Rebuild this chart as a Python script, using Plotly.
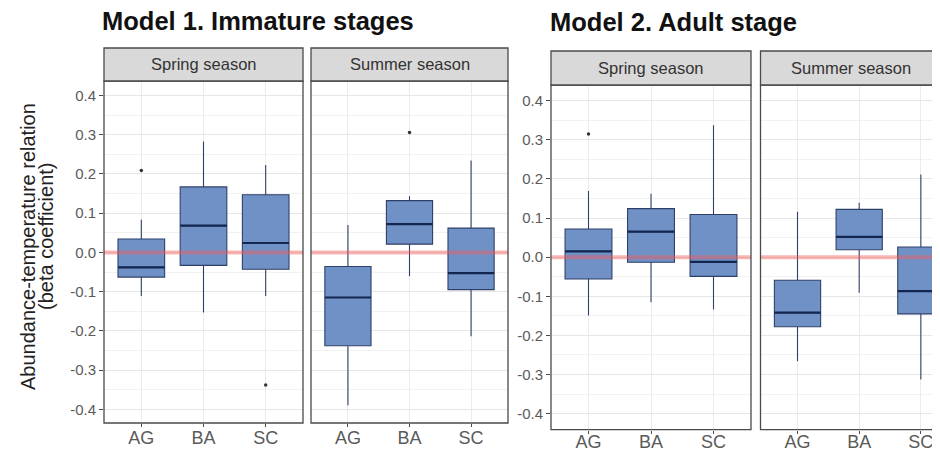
import plotly.graph_objects as go

W, H = 940, 453

categories = ["AG", "BA", "SC"]
y_ticks = [-0.4, -0.3, -0.2, -0.1, 0.0, 0.1, 0.2, 0.3, 0.4]
y_ticktext = ["-0.4", "-0.3", "-0.2", "-0.1", "0.0", "0.1", "0.2", "0.3", "0.4"]

# Model 1. Immature stages - Spring
m1_spring_lower = [-0.111, -0.153, -0.111]
m1_spring_q1 = [-0.063, -0.033, -0.043]
m1_spring_median = [-0.038, 0.068, 0.024]
m1_spring_q3 = [0.034, 0.167, 0.147]
m1_spring_upper = [0.083, 0.283, 0.223]
m1_spring_out_x = ["AG", "SC"]
m1_spring_out_y = [0.209, -0.338]

# Model 1. Immature stages - Summer
m1_summer_lower = [-0.390, -0.061, -0.214]
m1_summer_q1 = [-0.238, 0.021, -0.095]
m1_summer_median = [-0.115, 0.072, -0.053]
m1_summer_q3 = [-0.036, 0.132, 0.062]
m1_summer_upper = [0.070, 0.143, 0.234]
m1_summer_out_x = ["BA"]
m1_summer_out_y = [0.306]

# Model 2. Adult stage - Spring
m2_spring_lower = [-0.149, -0.115, -0.134]
m2_spring_q1 = [-0.056, -0.013, -0.049]
m2_spring_median = [0.015, 0.065, -0.012]
m2_spring_q3 = [0.072, 0.124, 0.109]
m2_spring_upper = [0.169, 0.162, 0.337]
m2_spring_out_x = ["AG"]
m2_spring_out_y = [0.315]

# Model 2. Adult stage - Summer
m2_summer_lower = [-0.266, -0.091, -0.313]
m2_summer_q1 = [-0.178, 0.019, -0.145]
m2_summer_median = [-0.142, 0.052, -0.087]
m2_summer_q3 = [-0.059, 0.122, 0.026]
m2_summer_upper = [0.116, 0.139, 0.211]
m2_summer_out_x = []
m2_summer_out_y = []

titles = ["Model 1. Immature stages", "Model 2. Adult stage"]
strip_labels = ["Spring season", "Summer season"]
y_title_lines = ["Abundance-temperature relation", "(beta coefficient)"]

FONT = "Liberation Sans, Arial, sans-serif"
BOX_FILL = "rgb(112,145,198)"
BOX_LINE = "#2f4068"
MED_LINE = "#12264f"
BORDER = "#4a4a4a"

# panel geometry in pixels: (x0, x1, ytop, ybottom, xrange, label standoff)
panels = [
    (96, 295, 73, 415, [-0.6, 2.6], -5),
    (303, 500, 73, 415, [-0.6, 2.6], -5),
    (543, 743, 77, 421.7, [-0.6, 2.6], -7),
    (752.5, 940, 77, 421.7, [-0.6, 2.44], -7),
]
yranges = [[-0.435, 0.437], [-0.435, 0.437], [-0.441, 0.44], [-0.441, 0.44]]
strips = [(40, 73), (40, 73), (43, 77), (43, 77)]

data = [
    (m1_spring_lower, m1_spring_q1, m1_spring_median, m1_spring_q3, m1_spring_upper, m1_spring_out_x, m1_spring_out_y),
    (m1_summer_lower, m1_summer_q1, m1_summer_median, m1_summer_q3, m1_summer_upper, m1_summer_out_x, m1_summer_out_y),
    (m2_spring_lower, m2_spring_q1, m2_spring_median, m2_spring_q3, m2_spring_upper, m2_spring_out_x, m2_spring_out_y),
    (m2_summer_lower, m2_summer_q1, m2_summer_median, m2_summer_q3, m2_summer_upper, m2_summer_out_x, m2_summer_out_y),
]

def px(x):
    return x / W

def py(y):
    return 1 - y / H

fig = go.Figure()
layout = {}
shapes = []
annotations = []

for i, ((x0, x1, yt, yb, xr, so), yr, (st, sb), d) in enumerate(zip(panels, yranges, strips, data)):
    n = "" if i == 0 else str(i + 1)
    xa, ya = "x" + n, "y" + n
    lower, q1, med, q3, upper, ox, oy = d
    fig.add_trace(go.Box(
        x=categories, q1=q1, median=med, q3=q3, lowerfence=lower, upperfence=upper,
        xaxis=xa, yaxis=ya, width=0.75, fillcolor=BOX_FILL,
        line=dict(color=BOX_LINE, width=1.1), whiskerwidth=0, boxpoints=False,
        showlegend=False, hoverinfo="skip",
    ))
    # thicker median (ggplot fatten)
    fig.add_trace(go.Box(
        x=categories, q1=med, median=med, q3=med, lowerfence=med, upperfence=med,
        xaxis=xa, yaxis=ya, width=0.75, fillcolor="rgba(0,0,0,0)",
        line=dict(color=MED_LINE, width=2.2), whiskerwidth=0, boxpoints=False,
        showlegend=False, hoverinfo="skip",
    ))
    if ox:
        fig.add_trace(go.Scatter(
            x=ox, y=oy, mode="markers", xaxis=xa, yaxis=ya,
            marker=dict(color="#333333", size=3.5), showlegend=False, hoverinfo="skip",
        ))
    layout["xaxis" + n] = dict(
        domain=[px(x0), px(x1)], anchor=ya, type="category",
        categoryorder="array", categoryarray=categories, range=xr,
        showgrid=True, gridcolor="#ebebeb", gridwidth=1,
        ticks="outside", ticklen=3, tickcolor=BORDER, tickwidth=1,
        ticklabelstandoff=so,
        tickfont=dict(family=FONT, size=18, color="#5a5a5a"),
        showline=False, zeroline=False, fixedrange=True,
    )
    layout["yaxis" + n] = dict(
        domain=[py(yb), py(yt)], anchor=xa, range=yr,
        tickmode="array", tickvals=y_ticks, ticktext=y_ticktext,
        showgrid=True, gridcolor="#e6e6e6", gridwidth=1,
        minor=dict(dtick=0.05, tick0=0.05, showgrid=True, gridcolor="#f2f2f2", gridwidth=1, ticks=""),
        ticks="outside" if i in (0, 2) else "", ticklen=4, tickcolor=BORDER,
        showticklabels=i in (0, 2),
        tickfont=dict(family=FONT, size=15, color="#5a5a5a"),
        showline=False, zeroline=False, fixedrange=True,
    )
    # zero reference line
    shapes.append(dict(type="line", xref=xa + " domain", yref=ya, x0=0, x1=1, y0=0, y1=0,
                       line=dict(color="rgba(245,90,90,0.45)", width=4), layer="above"))
    # panel border
    shapes.append(dict(type="rect", xref="paper", yref="paper",
                       x0=px(x0), x1=px(x1) if i < 3 else px(945), y0=py(yb), y1=py(yt),
                       line=dict(color=BORDER, width=1.3), fillcolor="rgba(0,0,0,0)", layer="above"))
    # strip
    shapes.append(dict(type="rect", xref="paper", yref="paper",
                       x0=px(x0), x1=px(x1) if i < 3 else px(945), y0=py(sb), y1=py(st),
                       line=dict(color=BORDER, width=1.3), fillcolor="#d9d9d9", layer="above"))
    cx = (x0 + x1) / 2 if i < 3 else (x0 + 945) / 2 - 6
    annotations.append(dict(text=strip_labels[i % 2], xref="paper", yref="paper",
                            x=px(cx), y=py((st + sb) / 2), xanchor="center", yanchor="middle",
                            showarrow=False, font=dict(family=FONT, size=16.5, color="#333333")))

annotations.append(dict(text="<b>" + titles[0] + "</b>", xref="paper", yref="paper",
                        x=px(92), y=py(13), xanchor="left", yanchor="middle", showarrow=False,
                        font=dict(family=FONT, size=25.5, color="#111111")))
annotations.append(dict(text="<b>" + titles[1] + "</b>", xref="paper", yref="paper",
                        x=px(540), y=py(14), xanchor="left", yanchor="middle", showarrow=False,
                        font=dict(family=FONT, size=25.5, color="#111111")))
for line, xc, yc in zip(y_title_lines, [20, 38], [239, 228]):
    annotations.append(dict(text=line, xref="paper", yref="paper",
                            x=px(xc), y=py(yc), xanchor="center", yanchor="middle",
                            textangle=-90, showarrow=False,
                            font=dict(family=FONT, size=20, color="#222222")))

fig.update_layout(
    width=W, height=H, margin=dict(l=0, r=0, t=0, b=0),
    paper_bgcolor="white", plot_bgcolor="white",
    shapes=shapes, annotations=annotations, showlegend=False,
    **layout,
)

fig.write_html("out.html")
